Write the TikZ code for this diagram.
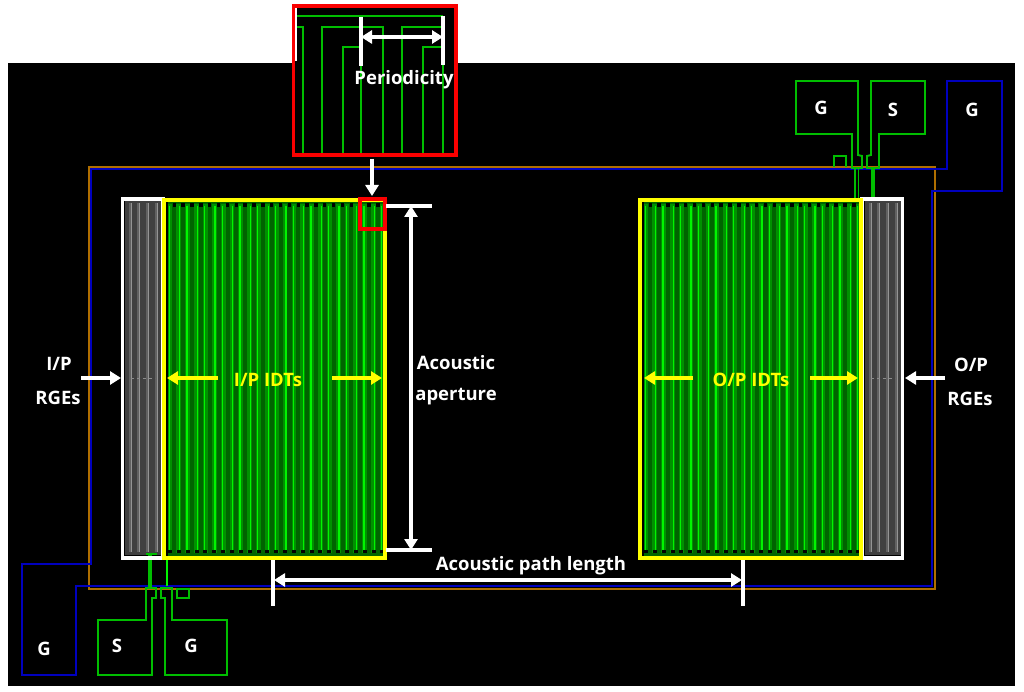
\documentclass[tikz,border=0pt]{standalone}
\usepackage{fontspec}
\setmainfont{Open Sans}
\usetikzlibrary{arrows.meta}
\definecolor{padgreen}{RGB}{0,190,0}
\definecolor{fingerdark}{RGB}{0,100,0}
\definecolor{fingermid}{RGB}{0,145,0}
\definecolor{fingerlight}{RGB}{0,245,0}
\definecolor{goldline}{RGB}{175,110,0}
\definecolor{blueline}{RGB}{0,0,190}
\definecolor{boxred}{RGB}{250,0,0}
\definecolor{boxyellow}{RGB}{255,255,0}
\tikzset{
    labeltext/.style={text=white,font=\fontsize{18.5}{20}\selectfont\bfseries,inner sep=0pt},
    yellowtext/.style={labeltext,text=boxyellow},
    padline/.style={draw=padgreen,line width=1.9pt,line join=miter},
    dimline/.style={draw=white,line width=3.2pt},
    dimarrow/.style={dimline,-{Triangle[width=13pt,length=11pt]}},
    dimboth/.style={dimline,{Triangle[width=13pt,length=11pt]}-{Triangle[width=13pt,length=11pt]}},
    yellowarrow/.style={dimarrow,draw=boxyellow}
}
% one block of fingers, #1 = left edge
\newcommand{\idtblock}[1]{
    \fill[fingerdark] (#1+3,202) rectangle (#1+219,556);
    \foreach \i in {0,...,24} {
        \pgfmathsetmacro{\fx}{#1+5+8.85*\i}
        \pgfmathsetmacro{\lx}{\fx+mod(\i,2)*1.5-0.7}
        \fill[fingermid] (\fx-2.4,204) rectangle (\fx+2.4,553);
        \draw[fingerlight,line width=1.3pt] (\lx,206) -- (\lx,550);
        \fill[black] (\fx+2.6,203.5) rectangle (\fx+6,207);
        \fill[black] (\fx-2,549.5) rectangle (\fx+2,553);
    }
}
% reflector block, #1 = left edge
\newcommand{\rgeblock}[1]{
    \fill[black!75] (#1,201) rectangle (#1+36,555);
    \foreach \i in {0,...,3} {
        \pgfmathsetmacro{\gx}{#1+5+8.8*\i}
        \draw[black!62,line width=3pt] (\gx,203) -- (\gx,552);
        \draw[black!42,line width=1pt] (\gx+1,203) -- (\gx+1,552);
    }
    \draw[black!45,line width=1pt,dashed] (#1+6,378) -- (#1+30,378);
}
\begin{document}
\begin{tikzpicture}[x=1pt,y=-1pt]
    \useasboundingbox (0,0) rectangle (1024,692);
    \fill[black] (8,63) rectangle (1015,686);

    % chip outline
    \draw[goldline,line width=1.9pt] (89,167) rectangle (935,589);
    \draw[blueline,line width=1.9pt] (22,564) -- (91,564) -- (91,169) -- (947,169) -- (947,81) -- (1002,81) -- (1002,191) -- (932,191) -- (932,586) -- (76,586) -- (76,675) -- (22,675) -- cycle;

    % pads top right
    \draw[padline] (796,81) -- (858,81) -- (858,155) -- (862,156) -- (862,168) -- (852,168) -- (852,134) -- (796,134) -- cycle;
    \draw[padline] (871,81) -- (925,81) -- (925,134) -- (879,134) -- (879,168) -- (867,168) -- (867,156) -- (871,155) -- cycle;
    \draw[padline] (834,167) -- (834,156) -- (846,156) -- (846,167);
    \draw[padgreen,line width=1.5pt] (855,168) -- (855,198);
    \draw[padgreen,line width=1.5pt] (858.5,168) -- (858.5,198);
    \draw[padgreen,line width=4pt] (873,168) -- (873,198);

    % pads bottom left
    \draw[padline] (98,620) -- (146,620) -- (146,588) -- (156,588) -- (156,598) -- (152,598) -- (152,675) -- (98,675) -- cycle;
    \draw[padline] (165,675) -- (227,675) -- (227,620) -- (172,620) -- (172,588) -- (161,588) -- (161,598) -- (165,598) -- cycle;
    \draw[padline] (177,589) rectangle (189,598);
    \draw[padgreen,line width=4pt] (150,554) -- (150,588);
    \draw[fingerlight,line width=1.5pt] (167,558) -- (167,586);

    % devices
    \idtblock{165}
    \idtblock{641}
    \rgeblock{125}
    \rgeblock{865}
    \draw[padgreen,line width=1.5pt] (146,554) -- (157,554);
    \draw[white,line width=3.6pt] (122.5,199) rectangle (163,558);
    \draw[white,line width=3.6pt] (862,199) rectangle (902.5,558);
    \draw[boxyellow,line width=3.8pt] (164,200) rectangle (385,558);
    \draw[boxyellow,line width=3.8pt] (640,200) rectangle (861,558);

    % zoom box
    \fill[black] (292,5) rectangle (457,156);
    \draw[padgreen,line width=1.9pt] (296,16) -- (443,16);
    \draw[padgreen,line width=1.9pt] (296,27) -- (303,27) -- (303,153);
    \draw[padgreen,line width=1.9pt] (322,153) -- (322,27) -- (383,27) -- (383,153);
    \draw[padgreen,line width=1.9pt] (343,153) -- (343,47) -- (361,47);
    \draw[padgreen,line width=1.9pt] (361,16) -- (361,153);
    \draw[padgreen,line width=1.9pt] (402,153) -- (402,27) -- (443,27);
    \draw[padgreen,line width=1.9pt] (423,153) -- (423,47) -- (443,47);
    \draw[padgreen,line width=1.9pt] (443,16) -- (443,153);
    \draw[white,line width=1.5pt] (296,7) -- (296,61);
    \draw[boxred,line width=3.6pt] (293.5,6) rectangle (456,155);
    \draw[boxred,line width=3.6pt] (360,199) rectangle (385,229);

    % periodicity
    \coordinate (perA) at (361,37);
    \coordinate (perB) at (443,37);
    \draw[dimline] (361,17) -- (361,66);
    \draw[dimline] (443,16) -- (443,65);
    \draw[dimboth] (perA) -- (perB);
    \node[labeltext] (periodicity) at (404,80) {Periodicity};

    % zoom pointer
    \coordinate (zoomA) at (372,159);
    \coordinate (zoomB) at (372,196);
    \draw[dimarrow] (zoomA) -- (zoomB);

    % aperture
    \coordinate (apTop) at (411,206);
    \coordinate (apBot) at (411,550);
    \draw[dimline] (386,206) -- (432,206);
    \draw[dimline] (386,550) -- (432,550);
    \draw[dimboth] (apTop) -- (apBot);
    \node[labeltext] (acoustic) at (456,363) {Acoustic};
    \node[labeltext] (aperture) at (456,397) {aperture};

    % path length
    \coordinate (pathA) at (274,580);
    \coordinate (pathB) at (742,580);
    \draw[dimline] (273,560) -- (273,606);
    \draw[dimline] (743,560) -- (743,606);
    \draw[dimboth] (pathA) -- (pathB);
    \node[labeltext] (pathlength) at (531,566) {Acoustic path length};

    % left labels
    \node[labeltext] (ipA) at (59,364) {I/P};
    \node[labeltext] (ipB) at (58,398) {RGEs};
    \coordinate (ipS) at (81,378);
    \coordinate (ipE) at (121,378);
    \draw[dimarrow] (ipS) -- (ipE);
    \node[yellowtext] (ipidt) at (268,380) {I/P IDTs};
    \draw[yellowarrow] (218,378) -- (167,378);
    \draw[yellowarrow] (332,378) -- (382,378);

    % right labels
    \node[labeltext] (opA) at (971,365) {O/P};
    \node[labeltext] (opB) at (970,399) {RGEs};
    \coordinate (opS) at (945,378);
    \coordinate (opE) at (905,378);
    \draw[dimarrow] (opS) -- (opE);
    \node[yellowtext] (opidt) at (751,380) {O/P IDTs};
    \draw[yellowarrow] (693,378) -- (644,378);
    \draw[yellowarrow] (810,378) -- (858,378);

    % pad names
    \node[labeltext] (padGa) at (821,108) {G};
    \node[labeltext] (padSa) at (893,110) {S};
    \node[labeltext] (padGb) at (972,110) {G};
    \node[labeltext] (padSb) at (117,646) {S};
    \node[labeltext] (padGc) at (191,646) {G};
    \node[labeltext] (padGd) at (44,649) {G};
\end{tikzpicture}
\end{document}
